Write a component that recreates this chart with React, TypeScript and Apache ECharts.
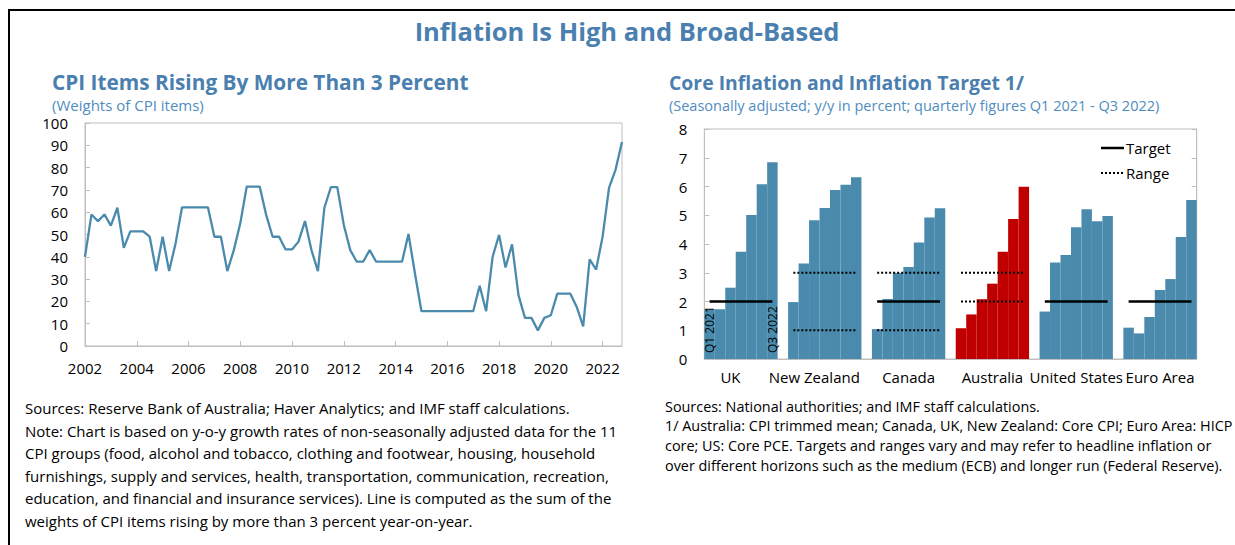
import React, { useEffect, useRef } from "react";
import * as echarts from "echarts";

// ---------- Left chart data ----------
const firstYear = 2002;
const lastYear = 2022;
const quarterNames = ["Q1", "Q2", "Q3", "Q4"];
const cpiWeights = [
  40, 59, 56, 59, 54, 62, 44, 51.4, 51.4, 51.4, 49, 33.6, 49, 33.6, 46, 62.2,
  62.2, 62.2, 62.2, 62.2, 49, 49, 33.6, 43, 55, 71.5, 71.5, 71.5, 58.8, 49,
  49, 43.3, 43.3, 46.8, 56, 43, 33.6, 62, 71.2, 71.2, 54.3, 43, 37.8, 37.8,
  43, 37.8, 37.8, 37.8, 37.8, 37.8, 50.2, 32.5, 15.6, 15.6, 15.6, 15.6, 15.6,
  15.6, 15.6, 15.6, 15.6, 27, 15.6, 40, 49.8, 35.2, 45.6, 22.8, 12.6, 12.6,
  7, 12.6, 13.8, 23.5, 23.5, 23.5, 17.5, 8.8, 38.8, 34.3, 49, 71, 79, 91.5,
];
const leftYTicks = [0, 100, 10];

// ---------- Right chart data ----------
const countries = ["UK", "New Zealand", "Canada", "Australia", "United States", "Euro Area"];
const quarters = ["Q1 2021", "Q2 2021", "Q3 2021", "Q4 2021", "Q1 2022", "Q2 2022", "Q3 2022"];
const ukCore = [1.72, 1.73, 2.48, 3.73, 5.01, 6.08, 6.84];
const nzCore = [1.98, 3.32, 4.83, 5.25, 5.88, 6.06, 6.32];
const caCore = [1.04, 2.09, 2.99, 3.2, 4.05, 4.92, 5.24];
const auCore = [1.07, 1.55, 2.08, 2.62, 3.73, 4.87, 5.99];
const usCore = [1.65, 3.36, 3.62, 4.58, 5.21, 4.79, 4.97];
const eaCore = [1.09, 0.89, 1.46, 2.4, 2.78, 4.24, 5.53];
const coreByCountry = [ukCore, nzCore, caCore, auCore, usCore, eaCore];
const targets = [2, null, 2, null, 2, 2];
const rangeLow = [null, 1, 1, 2, null, null];
const rangeHigh = [null, 3, 3, 3, null, null];
const highlightCountry = "Australia";
const rightYTicks = [0, 8, 1];
const legendNames = ["Target", "Range"];

// ---------- Texts ----------
const mainTitle = "Inflation Is High and Broad-Based";
const leftTitle = "CPI Items Rising By More Than 3 Percent";
const leftSubtitle = "(Weights of CPI items)";
const rightTitle = "Core Inflation and Inflation Target 1/";
const rightSubtitle = "(Seasonally adjusted; y/y in percent; quarterly figures Q1 2021 - Q3 2022)";
const leftNotes = [
  "Sources: Reserve Bank of Australia; Haver Analytics; and IMF staff calculations.",
  "Note: Chart is based on y-o-y growth rates of non-seasonally adjusted data for the 11",
  "CPI groups (food, alcohol and tobacco, clothing and footwear, housing, household",
  "furnishings, supply and services, health, transportation, communication, recreation,",
  "education, and financial and insurance services). Line is computed as the sum of the",
  "weights of CPI items rising by more than 3 percent year-on-year.",
];
const rightNotes = [
  "Sources: National authorities; and IMF staff calculations.",
  "1/ Australia: CPI trimmed mean; Canada, UK, New Zealand: Core CPI; Euro Area: HICP",
  "core; US: Core PCE. Targets and ranges vary and may refer to headline inflation or",
  "over different horizons such as the medium (ECB) and longer run (Federal Reserve).",
];

const FONT = "'Open Sans', 'Noto Sans', sans-serif";
const BLUE = "#4a8bad";
const TITLE_BLUE = "#4a7fb0";
const SUB_BLUE = "#4f8cc0";
const GRAY = "#bfbfbf";

export default function App() {
  const ref = useRef<HTMLDivElement>(null);

  useEffect(() => {
    if (!ref.current) return;
    const chart = echarts.init(ref.current, undefined, { renderer: "svg" });

    // left categories
    const leftCats: string[] = [];
    for (let y = firstYear; y <= lastYear; y++) {
      for (const q of quarterNames) leftCats.push(`${y}${q}`);
    }

    // right slots
    const slots: string[] = [];
    const barData: any[] = [];
    const targetData: any[] = [];
    const lowData: any[] = [];
    const highData: any[] = [];
    const slotLabel: Record<number, string> = {};
    countries.forEach((c, g) => {
      const start = slots.length;
      slotLabel[start + (g < 2 ? 2 : 3)] = c;
      quarters.forEach((q, k) => {
        slots.push(`${c} ${q}`);
        const item: any = {
          value: coreByCountry[g][k],
          itemStyle: { color: c === highlightCountry ? "#c00000" : BLUE },
        };
        if (g === 0 && (k === 0 || k === quarters.length - 1)) {
          item.label = {
            show: true,
            formatter: q,
            position: "insideBottom",
            rotate: 90,
            align: "left",
            verticalAlign: "middle",
            distance: 6,
            fontSize: 12,
            color: "#000",
            fontFamily: FONT,
          };
        }
        barData.push(item);
        targetData.push(targets[g] == null ? null : targets[g]);
        lowData.push(rangeLow[g] == null ? null : rangeLow[g]);
        highData.push(rangeHigh[g] == null ? null : rangeHigh[g]);
      });
      if (g < countries.length - 1) {
        slots.push(`gap${g}`);
        barData.push(null);
        targetData.push(null);
        lowData.push(null);
        highData.push(null);
      }
    });

    const textEl = (
      text: string,
      x: number,
      y: number,
      size: number,
      color: string,
      weight: string = "normal",
      align: string = "left"
    ) => ({
      type: "text",
      x,
      y,
      silent: true,
      style: {
        text,
        fill: color,
        fontSize: size,
        fontWeight: weight,
        fontFamily: FONT,
        textAlign: align,
        textVerticalAlign: "middle",
      },
    });

    const graphics: any[] = [
      {
        type: "rect",
        shape: { x: 9, y: 10, width: 1240, height: 600 },
        style: { fill: "none", stroke: "#000", lineWidth: 2 },
        silent: true,
      },
      textEl(mainTitle, 627, 31, 25.5, TITLE_BLUE, "bold", "center"),
      textEl(leftTitle, 52, 82, 20.8, TITLE_BLUE, "bold"),
      textEl(leftSubtitle, 52, 105, 15, SUB_BLUE),
      textEl(rightTitle, 669, 82, 19.4, TITLE_BLUE, "bold"),
      textEl(rightSubtitle, 669, 105, 14.5, SUB_BLUE),
      // legend (manual)
      {
        type: "line",
        shape: { x1: 1101, y1: 148, x2: 1124, y2: 148 },
        style: { stroke: "#000", lineWidth: 2.5 },
        silent: true,
      },
      {
        type: "line",
        shape: { x1: 1101, y1: 173, x2: 1124, y2: 173 },
        style: { stroke: "#000", lineWidth: 2, lineDash: [2, 2] },
        silent: true,
      },
      textEl(legendNames[0], 1126, 148, 15, "#000"),
      textEl(legendNames[1], 1126, 173, 15, "#000"),
    ];
    leftNotes.forEach((t, i) => graphics.push(textEl(t, 25, 408 + i * 22.6, 15, "#000")));
    rightNotes.forEach((t, i) => graphics.push(textEl(t, 665, 406 + i * 19.7, 14.4, "#000")));

    const axisText = { color: "#000", fontSize: 15, fontFamily: FONT };

    chart.setOption({
      animation: false,
      textStyle: { fontFamily: FONT },
      grid: [
        { left: 85, top: 123, width: 537, height: 223, show: true, borderColor: GRAY, borderWidth: 1 },
        { left: 704.3, top: 129, width: 492.4, height: 230, show: true, borderColor: GRAY, borderWidth: 1 },
      ],
      xAxis: [
        {
          type: "category",
          gridIndex: 0,
          data: leftCats,
          boundaryGap: false,
          axisLine: { lineStyle: { color: GRAY } },
          axisTick: {
            inside: true,
            length: 5,
            lineStyle: { color: GRAY },
            interval: (i: number) => i % 8 === 0,
          },
          axisLabel: {
            ...axisText,
            margin: 14,
            interval: (i: number) => i % 8 === 0,
            formatter: (v: string) => v.slice(0, 4),
          },
          splitLine: { show: false },
        },
        {
          type: "category",
          gridIndex: 1,
          data: slots,
          boundaryGap: true,
          axisLine: { lineStyle: { color: GRAY } },
          axisTick: { show: false },
          axisLabel: {
            ...axisText,
            margin: 10,
            interval: 0,
            formatter: (_v: string, i: number) => slotLabel[i] || "",
          },
          splitLine: { show: false },
        },
      ],
      yAxis: [
        {
          type: "value",
          gridIndex: 0,
          min: leftYTicks[0],
          max: leftYTicks[1],
          interval: leftYTicks[2],
          axisLine: { show: true, lineStyle: { color: GRAY } },
          axisTick: { show: true, inside: true, length: 5, lineStyle: { color: GRAY } },
          axisLabel: { ...axisText, margin: 17 },
          splitLine: { show: false },
        },
        {
          type: "value",
          gridIndex: 1,
          min: rightYTicks[0],
          max: rightYTicks[1],
          interval: rightYTicks[2],
          axisLine: { show: true, lineStyle: { color: GRAY } },
          axisTick: { show: true, inside: true, length: 5, lineStyle: { color: GRAY } },
          axisLabel: { ...axisText, margin: 17 },
          splitLine: { show: false },
        },
        {
          type: "value",
          gridIndex: 1,
          position: "right",
          min: rightYTicks[0],
          max: rightYTicks[1],
          interval: rightYTicks[2],
          axisLine: { show: true, lineStyle: { color: GRAY } },
          axisTick: { show: true, inside: true, length: 5, lineStyle: { color: GRAY } },
          axisLabel: { show: false },
          splitLine: { show: false },
        },
      ],
      series: [
        {
          name: "CPI weights",
          type: "line",
          xAxisIndex: 0,
          yAxisIndex: 0,
          data: cpiWeights,
          symbol: "none",
          lineStyle: { color: BLUE, width: 2.3 },
          itemStyle: { color: BLUE },
        },
        {
          name: "Core inflation",
          type: "bar",
          xAxisIndex: 1,
          yAxisIndex: 1,
          data: barData,
          barCategoryGap: "0%",
          itemStyle: { color: BLUE },
        },
        {
          name: legendNames[0],
          type: "line",
          xAxisIndex: 1,
          yAxisIndex: 1,
          data: targetData,
          symbol: "none",
          connectNulls: false,
          z: 5,
          lineStyle: { color: "#000", width: 2.5 },
          itemStyle: { color: "#000" },
        },
        {
          name: legendNames[1],
          type: "line",
          xAxisIndex: 1,
          yAxisIndex: 1,
          data: highData,
          symbol: "none",
          connectNulls: false,
          z: 5,
          lineStyle: { color: "#000", width: 2, type: [2, 2] },
          itemStyle: { color: "#000" },
        },
        {
          name: legendNames[1],
          type: "line",
          xAxisIndex: 1,
          yAxisIndex: 1,
          data: lowData,
          symbol: "none",
          connectNulls: false,
          z: 5,
          lineStyle: { color: "#000", width: 2, type: [2, 2] },
          itemStyle: { color: "#000" },
        },
      ],
      graphic: graphics,
    });

    return () => chart.dispose();
  }, []);

  return (
    <div
      ref={ref}
      style={{ position: "absolute", left: 0, top: 0, width: 1235, height: 545, background: "#fff" }}
    />
  );
}
